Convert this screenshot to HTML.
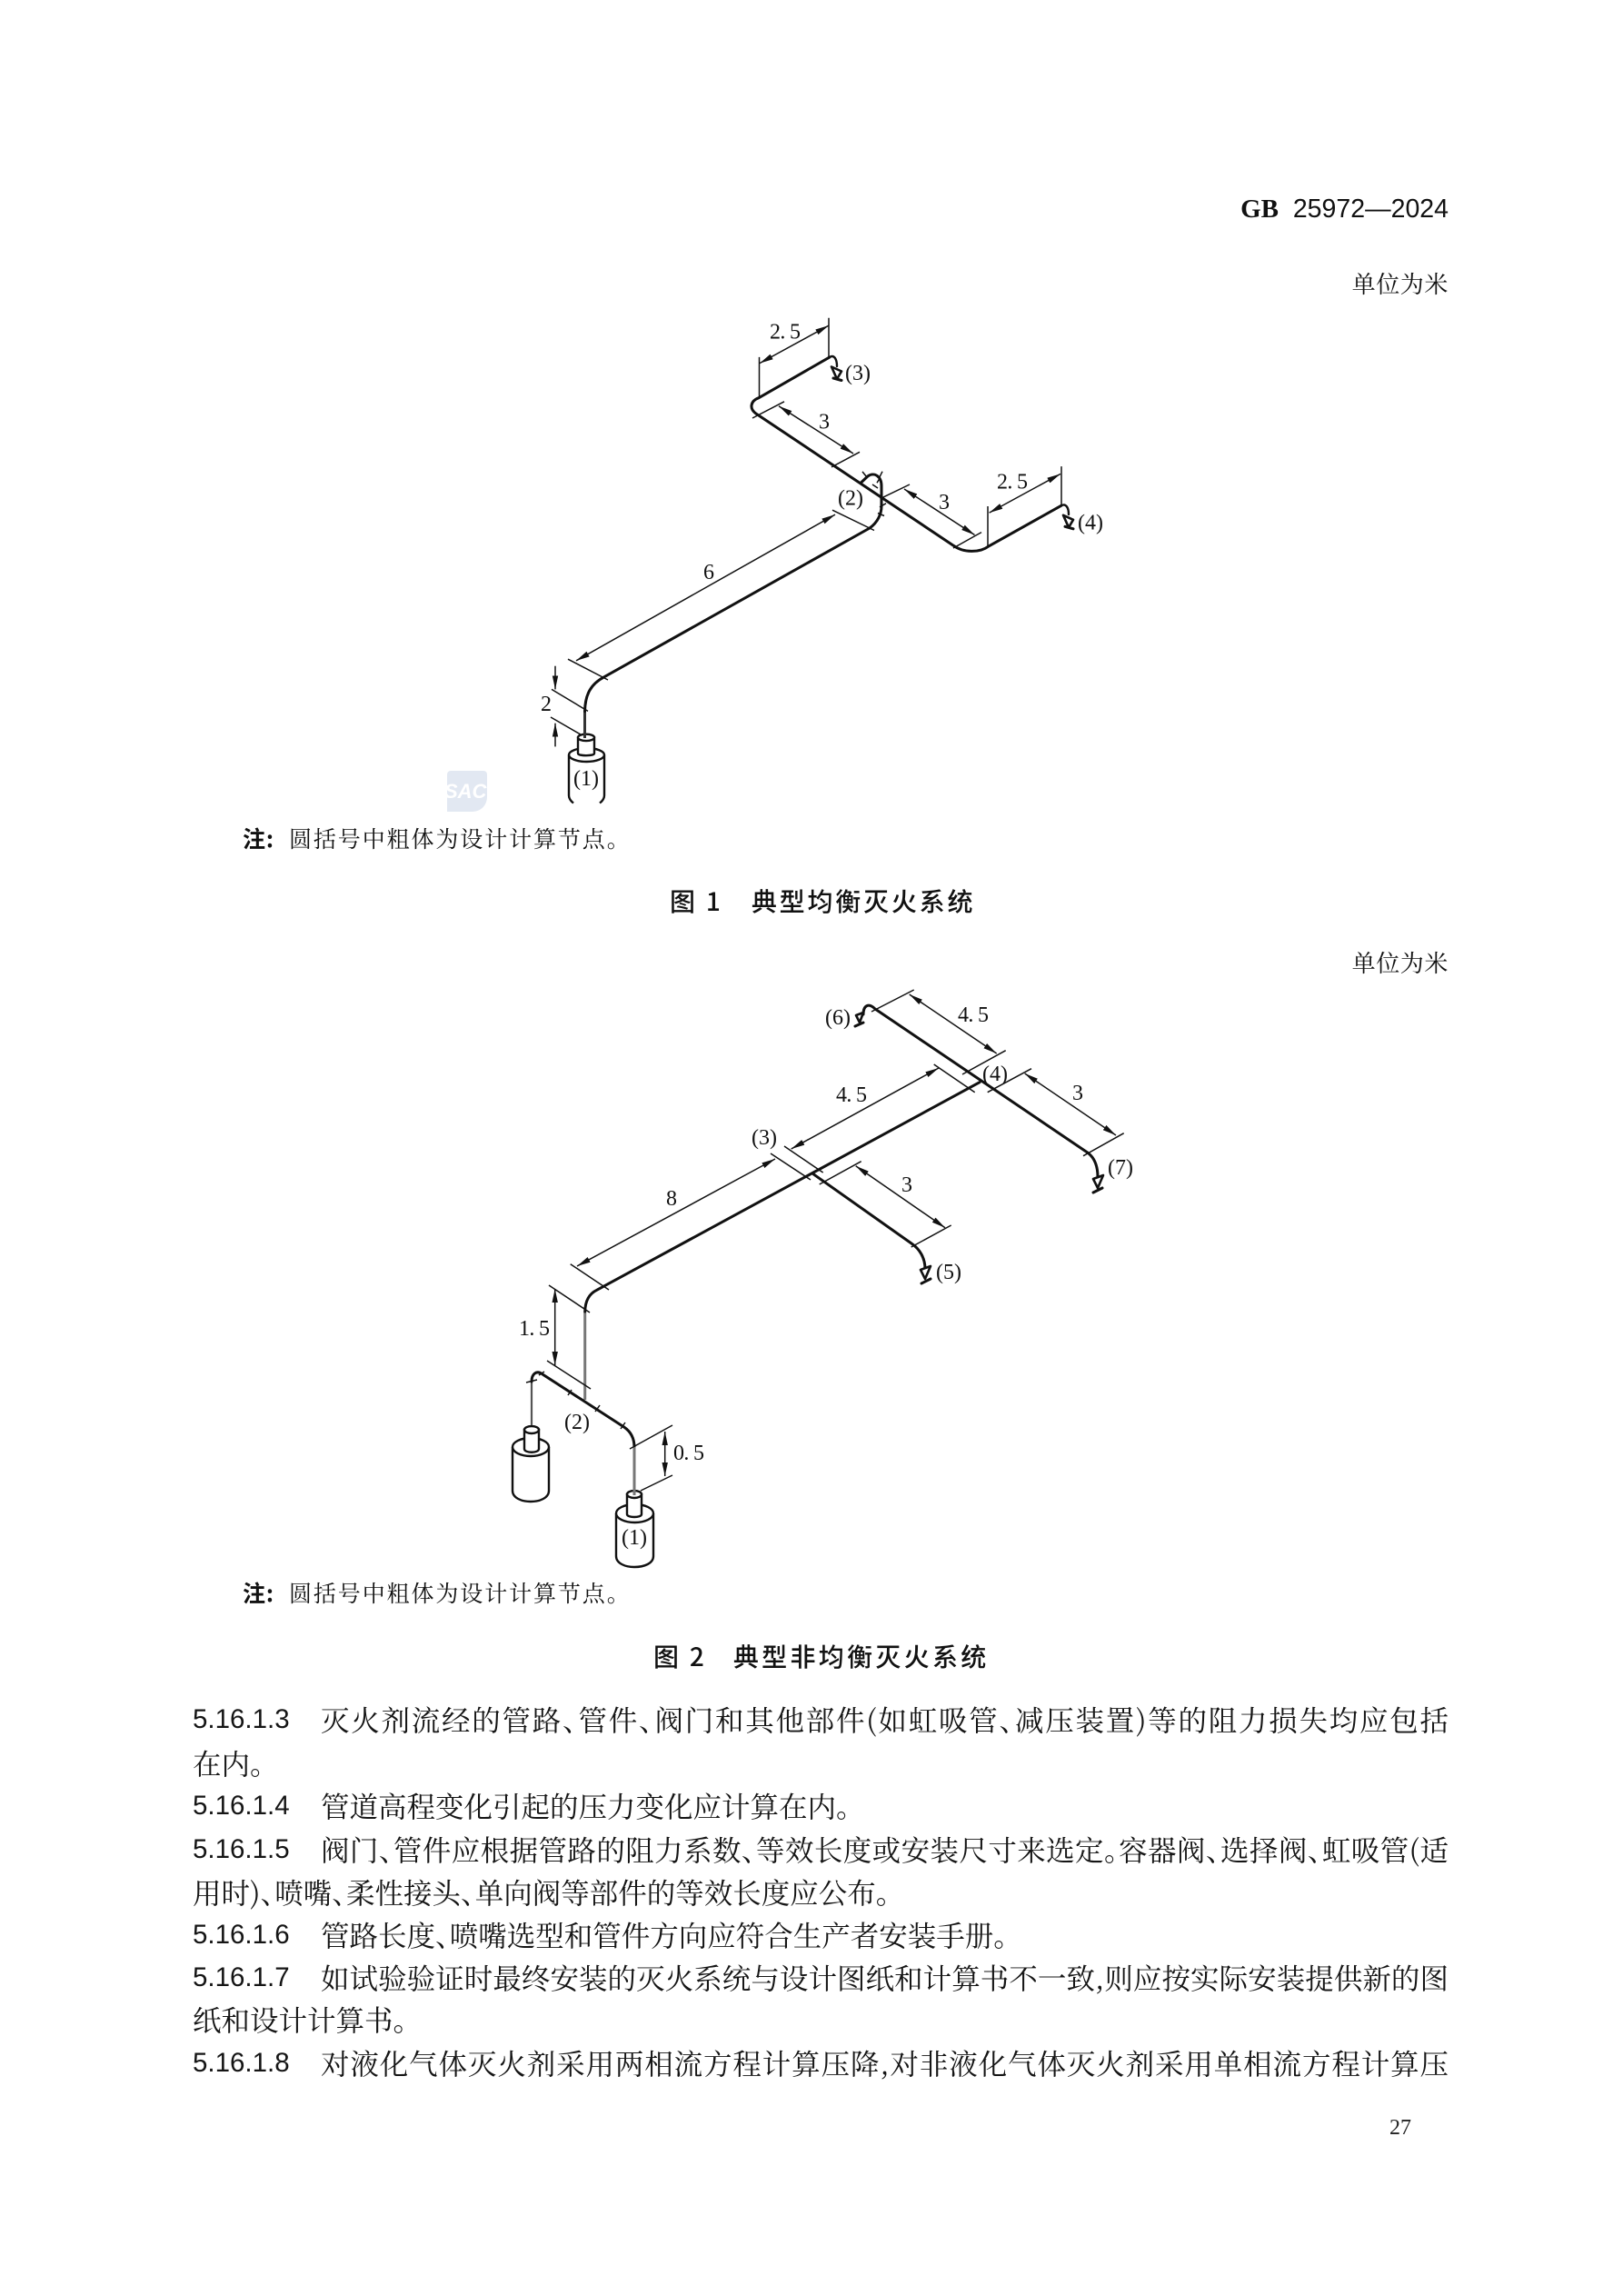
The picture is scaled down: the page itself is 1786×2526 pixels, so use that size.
<!DOCTYPE html>
<html lang="zh">
<head>
<meta charset="utf-8">
<style>
html,body{margin:0;padding:0;background:#fff}
#p{position:relative;width:1786px;height:2526px;overflow:hidden;background:#fff;color:#111;font-family:"Liberation Serif","Noto Serif CJK SC",serif}
.a{position:absolute;white-space:nowrap}
.l{position:absolute;line-height:48px;height:48px;white-space:nowrap;font-size:31.5px;font-family:"Noto Serif CJK SC",serif;font-feature-settings:"halt";color:#151515}
.j{text-align:justify;text-align-last:justify;white-space:normal;overflow:hidden}
.n{position:absolute;left:212px;line-height:48px;height:48px;font-size:29.5px;font-family:"Liberation Sans",sans-serif;color:#151515}
.u{position:absolute;right:192px;font-size:26px;letter-spacing:.6px;line-height:34px;font-family:"Noto Serif CJK SC",serif}
.note{position:absolute;left:267px;font-size:25px;line-height:34px;letter-spacing:1.9px;font-family:"Noto Serif CJK SC",serif;white-space:nowrap}
.note b{display:inline-block;width:51px;letter-spacing:.9px;font-family:"Noto Sans CJK SC",sans-serif;font-weight:700}
.cap{position:absolute;font-family:"Noto Sans CJK SC",sans-serif;font-weight:500;font-size:28px;line-height:40px;white-space:nowrap;letter-spacing:2.8px;color:#111}
svg{position:absolute;left:0;top:0}
svg text{font-family:"Liberation Serif",serif;font-size:24px;fill:#111;text-anchor:middle}
.p{fill:none;stroke:#111;stroke-width:3;stroke-linecap:round;stroke-linejoin:round}
.g{fill:none;stroke:#777;stroke-width:3}
.t{fill:none;stroke:#111;stroke-width:1.5}
.d{fill:none;stroke:#111;stroke-width:1.5;marker-start:url(#ar);marker-end:url(#ar)}
.c{fill:#fff;stroke:#111;stroke-width:2.4}
.z{fill:#fff;stroke:#111;stroke-width:2.6;stroke-linejoin:round}
</style>
</head>
<body>
<div id="p">
<div class="a" style="right:192px;top:212px;font-size:28.5px;line-height:36px;font-family:'Liberation Sans',sans-serif;color:#111"><b style="font-family:'Liberation Serif',serif;font-size:29px">GB</b>&nbsp; 25972—2024</div>
<div class="u" style="top:295px">单位为米</div>
<div class="u" style="top:1042px">单位为米</div>

<div class="a" style="left:492px;top:848px;width:44px;height:45px;background:#e2e8f2;border-radius:4px 4px 16px 0"></div>
<div class="a" style="left:489px;top:858px;font:italic 700 22px 'Liberation Sans',sans-serif;color:#fff">SAC</div>

<svg width="1786" height="2526" viewBox="0 0 1786 2526">
<defs>
<marker id="ar" markerUnits="userSpaceOnUse" markerWidth="16" markerHeight="8" refX="15" refY="4" orient="auto-start-reverse"><path d="M0 0.8L15 4L0 7.2Z" fill="#111"/></marker>
</defs>

<!-- Figure 1 pipes -->
<path class="g" d="M643.5 812V782.4" style="stroke:#333"/>
<path class="p" d="M643.5 782.4C644 764 650 752.6 665 744.7L957 581C966 574.4 970 565.3 970 557V534.6C970 523.9 962 518.9 955 523.9L948 530.5"/>
<path class="p" d="M835 437.7L913 392.9M835 437.7C826 441 824 449.3 832 455.1L1049 600.1C1060 608.4 1078 608.4 1088 600.9L1168 556.2"/>
<path class="p" style="stroke-width:2.4" d="M913 392.9C918 390 921 395 921 403"/>
<path class="p" style="stroke-width:2.4" d="M1168 556.2C1173 553.5 1176 558.5 1176 566"/>
<polygon class="z" points="915,403.5 926,408.5 921,417"/><path class="p" d="M917 416L926 418.5"/>
<polygon class="z" points="1170,566.8 1181,571.8 1176,580.3"/><path class="p" d="M1172 579.3L1181 581.8"/>
<path class="t" d="M965 531.3l3 -5M966 537l-6 -4M968 557.8l7 -4M966 564.5l7 3M953 523.9l-4 -5M968 524.7l3 -6"/>

<!-- Figure 1 dims -->
<path class="t" d="M835.5 437.7V392.9M912 392.9V349.8M828 460L863 441.8M915 513.9L946 497.3M968.5 548.7L1001 533M1049 603L1080 585.6M1087 557V600.9M1168 513.1V556.2M916 561.2L962 583.5M625 725.2L669 748M607 758.4L647 782.4M606 789L642.6 810.2"/>
<path class="d" d="M836 399.6L912 358.1"/>
<path class="d" d="M857 446.8L939 499"/>
<path class="d" d="M995 538L1072.5 588.5"/>
<path class="d" d="M1088.6 564.1L1167 521.4"/>
<path class="d" d="M919 566.1L634 726.9"/>
<path class="t" style="marker-end:url(#ar)" d="M611 732.7V758.4"/>
<path class="t" style="marker-end:url(#ar)" d="M611 821.4V795.7"/>
<text x="864" y="372.500" textLength="34">2. 5</text>
<text x="907" y="471.500">3</text>
<text x="1039" y="560">3</text>
<text x="1114" y="537.500" textLength="34">2. 5</text>
<text x="780" y="637">6</text>
<text x="601" y="782">2</text>
<text x="944" y="418">(3)</text>
<text x="1200" y="582.500">(4)</text>
<text x="936" y="555.500">(2)</text>
<!-- Figure 1 cylinder -->
<path class="c" d="M626 830.5V875.2C626 879.4 629 881.900 631 883.5M665 830.5V875.2C665 879.4 662 881.900 660 883.5" style="fill:none"/>
<ellipse class="c" cx="645.500" cy="830.5" rx="19.500" ry="7.500" style="fill:none"/>
<path class="c" d="M636 811.4V828.8C636 832 654 832 654 828.8V811.4Z"/>
<ellipse class="c" cx="645" cy="811.4" rx="9" ry="3.700"/>
<path class="g" d="M643.500 799V812" style="stroke:#333"/>
<text x="645" y="864">(1)</text>

<!-- Figure 2 pipes -->
<path class="g" d="M643.700 1540V1443"/>
<path class="p" d="M643.700 1443C644 1430 649 1423 656.700 1419.300L1078 1190.700"/>
<path class="p" d="M585 1567V1520" style="stroke:#555;stroke-width:2.200"/>
<path class="p" d="M585 1520C585 1512 590 1507 596.700 1511.700L686.700 1570C694 1575 698 1582 698 1592"/>
<path class="g" d="M698 1592V1642"/>
<path class="t" d="M579 1521l12 -3M593 1513l6 -4M625 1535l4 -6M655 1553l5 -7M683 1572l5 -7"/>
<path class="p" d="M895 1291.700L1003 1368C1012 1374 1018 1384 1018 1396"/>
<path class="p" d="M950 1116C950 1106 956 1103 963 1110L1196.700 1268C1205 1274 1208 1283 1208 1295"/>
<polygon class="z" points="1203,1297 1214,1293 1208,1307"/><path class="p" d="M1203 1312L1213 1307"/>
<polygon class="z" points="1013,1397 1024,1393 1018,1407"/><path class="p" d="M1014 1412L1024 1407"/>
<polygon class="z" points="942,1117 950,1114 946,1125"/><path class="p" d="M941 1129L950 1125"/>

<!-- Figure 2 dims -->
<path class="t" d="M604 1414L649 1444M602 1497L650 1528M693 1594L740 1568M705 1640L740 1623M627.700 1390.700L670 1419M848 1269L892 1298M863 1261L905.700 1290M1027.700 1171L1072.700 1201.700M901.700 1303L947.700 1277.700M1002.700 1372L1046.700 1348M959 1113L1005.700 1089M1059 1182L1106.700 1155.700M1086.700 1201.700L1135 1175.700M1192 1271.700L1236.700 1246.700"/>
<path class="d" d="M610.700 1418V1502"/>
<path class="d" d="M731.700 1575V1624"/>
<path class="d" d="M635 1393L853 1275"/>
<path class="d" d="M870.700 1264L1033 1175"/>
<path class="d" d="M941.700 1282.700L1040 1350.700"/>
<path class="d" d="M1000.700 1094L1096.700 1159"/>
<path class="d" d="M1127.700 1181L1228 1249"/>
<text x="739" y="1326">8</text>
<text x="937" y="1212" textLength="34">4. 5</text>
<text x="1071" y="1124" textLength="34">4. 5</text>
<text x="998" y="1311">3</text>
<text x="1186" y="1210">3</text>
<text x="588" y="1469" textLength="34">1. 5</text>
<text x="758" y="1606" textLength="34">0. 5</text>
<text x="841" y="1259">(3)</text>
<text x="1095" y="1189">(4)</text>
<text x="922" y="1127">(6)</text>
<text x="1233" y="1292">(7)</text>
<text x="1044" y="1407">(5)</text>
<text x="635" y="1572">(2)</text>

<!-- Figure 2 cylinders -->
<path class="c" d="M564 1592V1640C564 1648 574 1652 584 1652C594 1652 604 1648 604 1640V1592" style="fill:#fff"/>
<ellipse class="c" cx="584" cy="1592" rx="20" ry="10"/>
<path class="c" d="M577 1573V1594C577 1599 593 1599 593 1594V1573Z"/>
<ellipse class="c" cx="585" cy="1573" rx="8" ry="4"/>
<path class="c" d="M678 1665V1712C678 1720 688 1724 698 1724C709 1724 719 1720 719 1712V1665"/>
<ellipse class="c" cx="698.500" cy="1665" rx="20.500" ry="10"/>
<path class="c" d="M690 1644V1666C690 1670 706 1670 706 1666V1644Z"/>
<ellipse class="c" cx="698" cy="1644" rx="8" ry="4"/>
<text x="698" y="1699">(1)</text>
<path class="g" d="M698 1630V1645"/>
</svg>

<div class="note" style="top:905px"><b>注:</b>圆括号中粗体为设计计算节点。</div>
<div class="cap" style="left:737px;top:971px">图 1<span style="display:inline-block;width:13px"></span>&nbsp; 典型均衡灭火系统</div>
<div class="note" style="top:1735px"><b>注:</b>圆括号中粗体为设计计算节点。</div>
<div class="cap" style="left:719px;top:1802px">图 2<span style="display:inline-block;width:11px"></span>&nbsp; <span style="letter-spacing:3.3px">典型非均衡灭火系统</span></div>

<div class="n" style="top:1868px">5.16.1.3</div>
<div class="l j" style="left:353px;width:1241px;top:1868px">灭火剂流经的管路、管件、阀门和其他部件(如虹吸管、减压装置)等的阻力损失均应包括</div>
<div class="l" style="left:212px;top:1916px">在内。</div>
<div class="n" style="top:1963px">5.16.1.4</div>
<div class="l" style="left:353px;top:1963px">管道高程变化引起的压力变化应计算在内。</div>
<div class="n" style="top:2011px">5.16.1.5</div>
<div class="l j" style="left:353px;width:1241px;top:2011px">阀门、管件应根据管路的阻力系数、等效长度或安装尺寸来选定。容器阀、选择阀、虹吸管(适</div>
<div class="l" style="left:212px;top:2058px">用时)、喷嘴、柔性接头、单向阀等部件的等效长度应公布。</div>
<div class="n" style="top:2105px">5.16.1.6</div>
<div class="l" style="left:353px;top:2105px">管路长度、喷嘴选型和管件方向应符合生产者安装手册。</div>
<div class="n" style="top:2152px">5.16.1.7</div>
<div class="l j" style="left:353px;width:1241px;top:2152px">如试验验证时最终安装的灭火系统与设计图纸和计算书不一致,则应按实际安装提供新的图</div>
<div class="l" style="left:212px;top:2198px">纸和设计计算书。</div>
<div class="n" style="top:2246px">5.16.1.8</div>
<div class="l j" style="left:353px;width:1241px;top:2246px">对液化气体灭火剂采用两相流方程计算压降,对非液化气体灭火剂采用单相流方程计算压</div>
<div class="a" style="left:1529px;top:2326px;font-size:24px;line-height:30px;font-family:'Liberation Serif',serif;color:#222">27</div>
</div>
</body>
</html>
